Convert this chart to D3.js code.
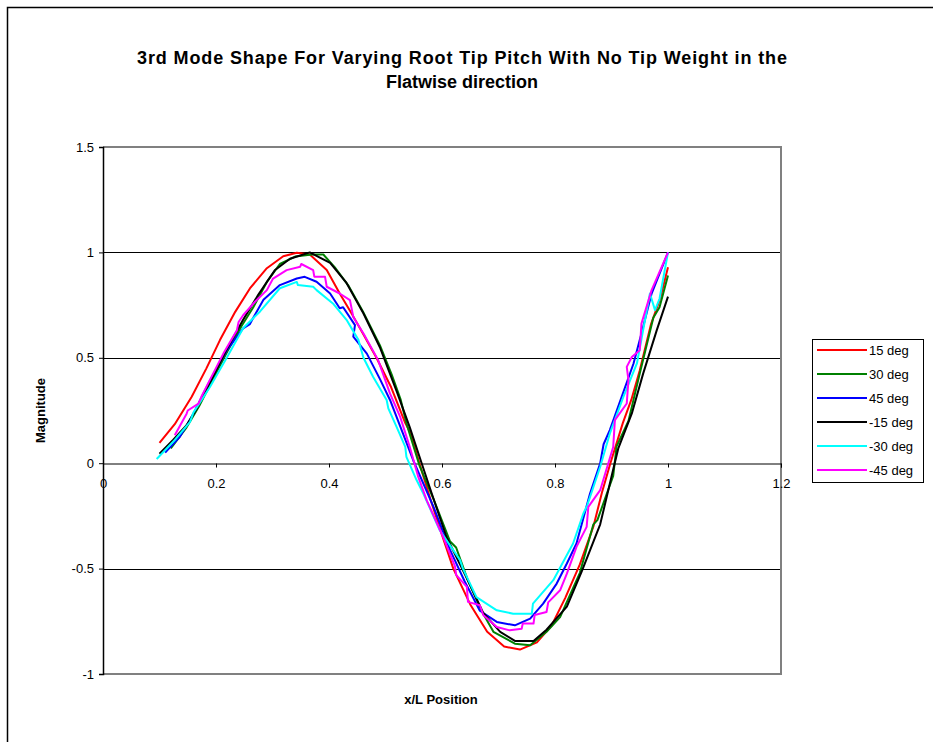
<!DOCTYPE html>
<html>
<head>
<meta charset="utf-8">
<script src="https://cdn.jsdelivr.net/npm/d3@7"></script>
<style>
  html, body { margin: 0; padding: 0; background: #fff; }
  svg { display: block; font-family: "Liberation Sans", Arial, sans-serif; }
</style>
</head>
<body>
<svg id="chart" width="933" height="742"></svg>
<script>
// ---------------- data ----------------
const titleLines = ["3rd Mode Shape For Varying Root Tip Pitch With No Tip Weight in the", "Flatwise direction"];
const xAxisTitle = "x/L Position";
const yAxisTitle = "Magnitude";
const xTicks = [0, 0.2, 0.4, 0.6, 0.8, 1, 1.2];
const yTicks = [-1, -0.5, 0, 0.5, 1, 1.5];
const seriesNames = ["15 deg", "30 deg", "45 deg", "-15 deg", "-30 deg", "-45 deg"];

const deg15 = [[0.10,0.096],[0.127,0.185],[0.157,0.315],[0.183,0.45],[0.207,0.584],[0.234,0.718],[0.26,0.829],[0.29,0.925],[0.319,0.982],[0.343,0.998],[0.366,0.99],[0.396,0.916],[0.419,0.805],[0.44,0.71],[0.46,0.615],[0.484,0.50],[0.51,0.36],[0.535,0.19],[0.545,0.14],[0.56,0.0],[0.58,-0.175],[0.60,-0.34],[0.62,-0.50],[0.65,-0.67],[0.68,-0.80],[0.71,-0.87],[0.738,-0.884],[0.768,-0.85],[0.794,-0.77],[0.818,-0.64],[0.844,-0.48],[0.868,-0.30],[0.883,-0.14],[0.898,0.0],[0.92,0.19],[0.935,0.30],[0.95,0.44],[0.97,0.66],[0.986,0.78],[1.0,0.93]];
const deg30 = [[0.12,0.07],[0.148,0.17],[0.17,0.27],[0.195,0.40],[0.22,0.53],[0.245,0.65],[0.266,0.74],[0.29,0.86],[0.313,0.945],[0.34,0.98],[0.37,0.99],[0.39,0.99],[0.41,0.93],[0.435,0.84],[0.46,0.72],[0.49,0.56],[0.511,0.42],[0.527,0.30],[0.537,0.19],[0.545,0.12],[0.56,-0.01],[0.585,-0.17],[0.614,-0.37],[0.625,-0.40],[0.645,-0.55],[0.67,-0.70],[0.691,-0.80],[0.729,-0.856],[0.756,-0.864],[0.785,-0.80],[0.809,-0.73],[0.844,-0.52],[0.868,-0.29],[0.875,-0.27],[0.903,-0.06],[0.909,0.08],[0.93,0.20],[0.95,0.425],[0.974,0.69],[0.985,0.74],[1.0,0.89]];
const deg45 = [[0.11,0.05],[0.136,0.125],[0.16,0.235],[0.189,0.39],[0.219,0.535],[0.248,0.64],[0.26,0.66],[0.266,0.69],[0.284,0.775],[0.313,0.845],[0.343,0.876],[0.357,0.884],[0.378,0.861],[0.402,0.805],[0.419,0.735],[0.425,0.74],[0.446,0.655],[0.443,0.60],[0.467,0.52],[0.49,0.40],[0.508,0.30],[0.531,0.14],[0.549,0.014],[0.585,-0.207],[0.614,-0.41],[0.64,-0.56],[0.667,-0.70],[0.697,-0.753],[0.729,-0.769],[0.756,-0.737],[0.779,-0.666],[0.803,-0.571],[0.821,-0.476],[0.838,-0.381],[0.862,-0.144],[0.88,0.0],[0.886,0.09],[0.897,0.157],[0.918,0.315],[0.939,0.473],[0.953,0.615],[0.971,0.805],[1.0,1.0]];
const degM15 = [[0.10,0.045],[0.124,0.11],[0.148,0.18],[0.166,0.26],[0.189,0.38],[0.219,0.54],[0.248,0.68],[0.275,0.80],[0.304,0.915],[0.331,0.97],[0.366,1.0],[0.402,0.95],[0.431,0.855],[0.461,0.71],[0.49,0.55],[0.52,0.34],[0.543,0.17],[0.564,0.0],[0.582,-0.145],[0.608,-0.35],[0.641,-0.53],[0.673,-0.71],[0.703,-0.80],[0.729,-0.843],[0.762,-0.843],[0.785,-0.79],[0.821,-0.68],[0.847,-0.515],[0.88,-0.29],[0.903,-0.03],[0.912,0.07],[0.936,0.236],[0.956,0.425],[0.98,0.63],[1.0,0.79]];
const degM30 = [[0.095,0.02],[0.127,0.11],[0.154,0.196],[0.16,0.24],[0.189,0.36],[0.219,0.50],[0.248,0.64],[0.278,0.72],[0.313,0.83],[0.343,0.86],[0.345,0.845],[0.372,0.837],[0.378,0.821],[0.408,0.755],[0.431,0.68],[0.452,0.585],[0.461,0.50],[0.478,0.41],[0.502,0.30],[0.505,0.26],[0.52,0.17],[0.535,0.077],[0.537,0.03],[0.555,-0.08],[0.567,-0.144],[0.596,-0.318],[0.632,-0.46],[0.637,-0.50],[0.661,-0.635],[0.697,-0.698],[0.726,-0.714],[0.759,-0.714],[0.761,-0.666],[0.797,-0.555],[0.832,-0.381],[0.85,-0.24],[0.857,-0.20],[0.88,-0.017],[0.897,0.14],[0.921,0.315],[0.945,0.473],[0.968,0.805],[0.977,0.726],[0.985,0.78],[1.0,1.0]];
const degM45 = [[0.127,0.133],[0.148,0.235],[0.15,0.25],[0.169,0.283],[0.175,0.32],[0.189,0.394],[0.213,0.52],[0.237,0.631],[0.24,0.67],[0.248,0.702],[0.269,0.766],[0.29,0.821],[0.301,0.876],[0.325,0.916],[0.349,0.932],[0.351,0.945],[0.372,0.916],[0.374,0.885],[0.393,0.884],[0.396,0.837],[0.419,0.805],[0.437,0.774],[0.443,0.694],[0.461,0.615],[0.487,0.489],[0.508,0.33],[0.526,0.22],[0.543,0.077],[0.558,-0.065],[0.573,-0.176],[0.602,-0.35],[0.623,-0.49],[0.625,-0.53],[0.644,-0.587],[0.646,-0.658],[0.667,-0.674],[0.673,-0.72],[0.697,-0.777],[0.72,-0.793],[0.741,-0.785],[0.743,-0.76],[0.762,-0.761],[0.764,-0.72],[0.785,-0.706],[0.788,-0.66],[0.809,-0.603],[0.821,-0.524],[0.838,-0.397],[0.856,-0.302],[0.859,-0.207],[0.88,-0.128],[0.903,0.077],[0.906,0.204],[0.927,0.283],[0.93,0.394],[0.927,0.457],[0.936,0.504],[0.95,0.536],[0.953,0.663],[0.971,0.821],[1.0,1.0]];

const seriesValues = [deg15, deg30, deg45, degM15, degM30, degM45];

// ---------------- styles ----------------
const colors = ["#FF0000", "#008000", "#0000FF", "#000000", "#00FFFF", "#FF00FF"];
const plot = { left: 103, right: 781, top: 147, bottom: 674 };
const fontFam = '"Liberation Sans", Arial, sans-serif';

const svg = d3.select("#chart");

// outer chart border
svg.append("rect").attr("x", 7.5).attr("y", 7.5).attr("width", 1000).attr("height", 1000)
  .attr("fill", "#fff").attr("stroke", "#000").attr("stroke-width", 1.5);

const x = d3.scaleLinear().domain([0, 1.2]).range([plot.left, plot.right]);
const y = d3.scaleLinear().domain([-1, 1.5]).range([plot.bottom, plot.top]);

// title
svg.append("text").attr("x", 462).attr("y", 64).attr("text-anchor", "middle")
  .attr("font-size", 18).attr("font-weight", "bold")
  .attr("textLength", 650).attr("lengthAdjust", "spacing").text(titleLines[0]);
svg.append("text").attr("x", 462).attr("y", 88).attr("text-anchor", "middle")
  .attr("font-size", 18).attr("font-weight", "bold").text(titleLines[1]);

// gridlines (interior)
svg.append("g").selectAll("line").data(yTicks.filter(t => t > -1 && t < 1.5 && t !== 0)).join("line")
  .attr("x1", plot.left).attr("x2", plot.right)
  .attr("y1", d => Math.round(y(d)) + 0.5).attr("y2", d => Math.round(y(d)) + 0.5)
  .attr("stroke", "#000").attr("stroke-width", 1);

// plot frame (gray top, right, bottom)
svg.append("path")
  .attr("d", `M${plot.left},${plot.top} H${plot.right} V${plot.bottom} H${plot.left}`)
  .attr("fill", "none").attr("stroke", "#808080").attr("stroke-width", 2);

// y axis
const yAxis = d3.axisLeft(y).tickValues(yTicks).tickSize(4).tickPadding(5)
  .tickFormat(d => String(d));
const gy = svg.append("g").attr("transform", `translate(${plot.left},0)`).call(yAxis);
gy.select(".domain").attr("stroke", "#000").attr("stroke-width", 1.5);
gy.selectAll(".tick line").attr("stroke", "#000");
gy.selectAll("text").attr("font-size", 13).attr("font-family", fontFam).attr("fill", "#000");

// x axis at y=0
const xAxis = d3.axisBottom(x).tickValues(xTicks).tickSize(4).tickPadding(11)
  .tickFormat(d => String(d));
const gx = svg.append("g").attr("transform", `translate(0,${Math.round(y(0)) + 0.5})`).call(xAxis);
gx.select(".domain").attr("stroke", "#000").attr("stroke-width", 1);
gx.selectAll(".tick line").attr("stroke", "#000");
gx.selectAll("text").attr("font-size", 13).attr("font-family", fontFam).attr("fill", "#000");

// axis titles
svg.append("text").attr("x", plot.left + (plot.right - plot.left) / 2 - 1).attr("y", 704)
  .attr("text-anchor", "middle").attr("font-size", 13).attr("font-weight", "bold").text(xAxisTitle);
svg.append("text").attr("transform", `translate(45,${(plot.top + plot.bottom) / 2}) rotate(-90)`)
  .attr("text-anchor", "middle").attr("font-size", 13).attr("font-weight", "bold").text(yAxisTitle);

// series
const line = d3.line().x(d => x(d[0])).y(d => y(d[1]));
svg.append("g").selectAll("path").data(seriesValues).join("path")
  .attr("d", line).attr("fill", "none")
  .attr("stroke", (d, i) => colors[i]).attr("stroke-width", 2).attr("stroke-linejoin", "round");

// legend
const lg = svg.append("g");
lg.append("rect").attr("x", 812.5).attr("y", 339.5).attr("width", 111).attr("height", 143)
  .attr("fill", "#fff").attr("stroke", "#000").attr("stroke-width", 1);
const items = lg.selectAll("g.item").data(seriesNames).join("g").attr("class", "item")
  .attr("transform", (d, i) => `translate(0,${350 + i * 24})`);
items.append("line").attr("x1", 817).attr("x2", 867).attr("y1", 0).attr("y2", 0)
  .attr("stroke", (d, i) => colors[i]).attr("stroke-width", 2);
items.append("text").attr("x", 869).attr("y", 5).attr("font-size", 13).text(d => d);
</script>
</body>
</html>
